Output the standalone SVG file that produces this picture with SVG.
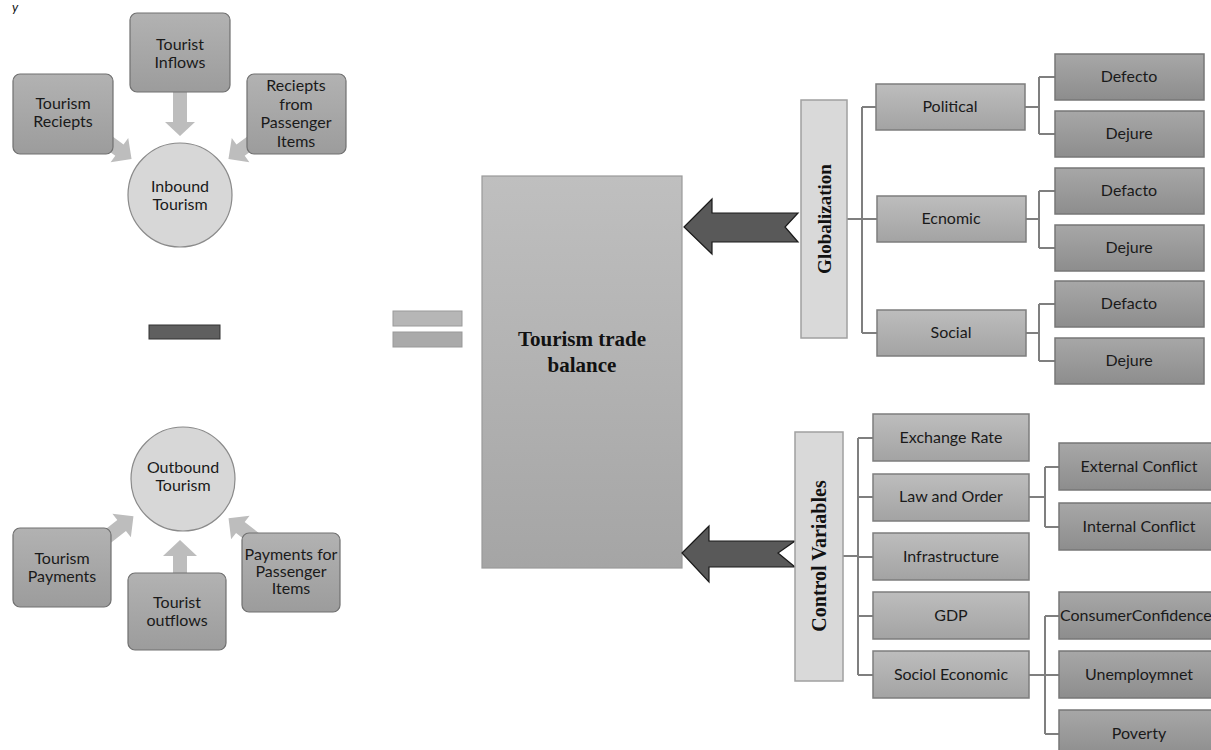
<svg xmlns="http://www.w3.org/2000/svg" width="1211" height="750" viewBox="0 0 1211 750">
<defs>
<linearGradient id="gL2" x1="0" y1="0" x2="0" y2="1"><stop offset="0" stop-color="#bdbdbd"/><stop offset="1" stop-color="#a3a3a3"/></linearGradient>
<linearGradient id="gL3" x1="0" y1="0" x2="0" y2="1"><stop offset="0" stop-color="#a7a7a7"/><stop offset="1" stop-color="#8d8d8d"/></linearGradient>
<linearGradient id="gBox" x1="0" y1="0" x2="0" y2="1"><stop offset="0" stop-color="#b2b2b2"/><stop offset="1" stop-color="#9c9c9c"/></linearGradient>
<linearGradient id="gMain" x1="0" y1="0" x2="0" y2="1"><stop offset="0" stop-color="#bfbfbf"/><stop offset="1" stop-color="#a5a5a5"/></linearGradient>
</defs>
<style>
.t{font-family:Lato,"Liberation Sans",sans-serif;font-size:16px;fill:#1a1a1a;text-anchor:middle}
.s{font-family:"Liberation Serif",serif;font-weight:bold;fill:#111;text-anchor:middle}
.l2{fill:url(#gL2);stroke:#7d7d7d;stroke-width:1.5}
.l3{fill:url(#gL3);stroke:#777;stroke-width:1.5}
.rb{fill:url(#gBox);stroke:#707070;stroke-width:1.2}
.circ{fill:#d7d7d7;stroke:#8a8a8a;stroke-width:1.2}
.sa{fill:#bdbdbd}
.big{fill:#595959;stroke:#1a1a1a;stroke-width:1.2}
.head{fill:#d9d9d9;stroke:#a0a0a0;stroke-width:1.5}
.conn{fill:none;stroke:#7f7f7f;stroke-width:2}
</style>
<rect width="1211" height="750" fill="#fff"/>
<text x="12" y="12" style="font-family:Lato,sans-serif;font-size:13px;font-style:italic;fill:#111">y</text>

<g id="inbound-arrows">
<polygon class="sa" transform="translate(180,90) rotate(90)" points="0,-7 32,-7 32,-15 46,0 32,15 32,7 0,7"/>
<polygon class="sa" transform="translate(100,136) rotate(36)" points="0,-7 24,-7 24,-15 39,0 24,15 24,7 0,7"/>
<polygon class="sa" transform="translate(260,136) rotate(144)" points="0,-7 24,-7 24,-15 39,0 24,15 24,7 0,7"/>
</g>
<g id="tourist-inflows"><rect class="rb" x="130" y="13" width="100" height="79" rx="7"/><text class="t"><tspan x="180" y="50">Tourist</tspan><tspan x="180" y="68">Inflows</tspan></text></g>
<g id="tourism-reciepts"><rect class="rb" x="13" y="74" width="100" height="80" rx="7"/><text class="t"><tspan x="63" y="109">Tourism</tspan><tspan x="63" y="127">Reciepts</tspan></text></g>
<g id="reciepts-passenger"><rect class="rb" x="247" y="74" width="99" height="80" rx="7"/><text class="t"><tspan x="296" y="91">Reciepts</tspan><tspan x="296" y="109.5">from</tspan><tspan x="296" y="128">Passenger</tspan><tspan x="296" y="146.5">Items</tspan></text></g>
<g id="inbound-tourism"><circle class="circ" cx="180" cy="195" r="52"/><text class="t"><tspan x="180" y="192">Inbound</tspan><tspan x="180" y="210">Tourism</tspan></text></g>

<g id="minus"><rect x="149" y="325" width="71" height="14" fill="#5f5f5f" stroke="#333" stroke-width="1"/></g>
<g id="equals"><rect x="393" y="311" width="69" height="15" fill="#b6b6b6" stroke="#9a9a9a" stroke-width="1"/><rect x="393" y="332" width="69" height="15" fill="#aaaaaa" stroke="#999" stroke-width="1"/></g>

<g id="outbound-arrows">
<polygon class="sa" transform="translate(180,575) rotate(-90)" points="0,-7 19,-7 19,-17 35,0 19,17 19,7 0,7"/>
<polygon class="sa" transform="translate(98,544) rotate(-38)" points="0,-7 30,-7 30,-15 45,0 30,15 30,7 0,7"/>
<polygon class="sa" transform="translate(264,546) rotate(-142)" points="0,-7 30,-7 30,-15 45,0 30,15 30,7 0,7"/>
</g>
<g id="outbound-tourism"><circle class="circ" cx="183" cy="479" r="52"/><text class="t"><tspan x="183" y="473">Outbound</tspan><tspan x="183" y="491">Tourism</tspan></text></g>
<g id="tourism-payments"><rect class="rb" x="13" y="528" width="98" height="79" rx="7"/><text class="t"><tspan x="62" y="564">Tourism</tspan><tspan x="62" y="582">Payments</tspan></text></g>
<g id="tourist-outflows"><rect class="rb" x="128" y="573" width="98" height="77" rx="7"/><text class="t"><tspan x="177" y="608">Tourist</tspan><tspan x="177" y="626">outflows</tspan></text></g>
<g id="payments-passenger"><rect class="rb" x="242" y="533" width="98" height="79" rx="7"/><text class="t"><tspan x="291" y="560">Payments for</tspan><tspan x="291" y="577">Passenger</tspan><tspan x="291" y="594">Items</tspan></text></g>

<g id="trade-balance"><rect x="482" y="176" width="200" height="392" fill="url(#gMain)" stroke="#9a9a9a" stroke-width="1.2"/><text class="s" style="font-size:21px"><tspan x="582" y="346">Tourism trade</tspan><tspan x="582" y="372">balance</tspan></text></g>

<g id="big-arrows">
<polygon class="big" points="684,227 712,199 712,213 798,213 785,227 798,242 712,242 712,254"/>
<polygon class="big" points="682,553 709,526 709,541 795,541 778,553 795,567 709,567 709,582"/>
</g>

<g id="connectors">
<path class="conn" d="M847,219H862M862,107V333M862,107H876M862,219H877M862,333H877"/>
<path class="conn" d="M1025,107H1039M1039,77V134M1039,77H1055M1039,134H1055"/>
<path class="conn" d="M1026,219H1039M1039,191V248M1039,191H1055M1039,248H1055"/>
<path class="conn" d="M1026,333H1039M1039,304V361M1039,304H1055M1039,361H1055"/>
<path class="conn" d="M843,556H858M858,438V675M858,438H873M858,497H873M858,557H873M858,616H873M858,675H873"/>
<path class="conn" d="M1029,497H1045M1045,467V527M1045,467H1059M1045,527H1059"/>
<path class="conn" d="M1029,675H1045M1045,616V734M1045,616H1059M1045,675H1059M1045,734H1059"/>
</g>

<g id="globalization"><rect class="head" x="801" y="100" width="46" height="238"/><text class="s" style="font-size:19px" transform="translate(831,219) rotate(-90)" x="0" y="0">Globalization</text></g>
<g id="political"><rect class="l2" x="876" y="84" width="149" height="46"/><text class="t" x="950" y="112">Political</text></g>
<g id="ecnomic"><rect class="l2" x="877" y="196" width="149" height="46"/><text class="t" x="951" y="224">Ecnomic</text></g>
<g id="social"><rect class="l2" x="877" y="310" width="149" height="46"/><text class="t" x="951" y="338">Social</text></g>
<g id="pol-defecto"><rect class="l3" x="1055" y="54" width="149" height="46"/><text class="t" x="1129" y="82">Defecto</text></g>
<g id="pol-dejure"><rect class="l3" x="1055" y="111" width="149" height="46"/><text class="t" x="1129" y="139">Dejure</text></g>
<g id="eco-defacto"><rect class="l3" x="1055" y="168" width="149" height="46"/><text class="t" x="1129" y="196">Defacto</text></g>
<g id="eco-dejure"><rect class="l3" x="1055" y="225" width="149" height="46"/><text class="t" x="1129" y="253">Dejure</text></g>
<g id="soc-defacto"><rect class="l3" x="1055" y="281" width="149" height="46"/><text class="t" x="1129" y="309">Defacto</text></g>
<g id="soc-dejure"><rect class="l3" x="1055" y="338" width="149" height="46"/><text class="t" x="1129" y="366">Dejure</text></g>

<g id="control-variables"><rect class="head" x="795" y="432" width="48" height="249"/><text class="s" style="font-size:20px" transform="translate(826,556) rotate(-90)" x="0" y="0">Control  Variables</text></g>
<g id="exchange-rate"><rect class="l2" x="873" y="414" width="156" height="47"/><text class="t" x="951" y="443">Exchange Rate</text></g>
<g id="law-order"><rect class="l2" x="873" y="474" width="156" height="47"/><text class="t" x="951" y="502">Law and Order</text></g>
<g id="infrastructure"><rect class="l2" x="873" y="533" width="156" height="47"/><text class="t" x="951" y="562">Infrastructure</text></g>
<g id="gdp"><rect class="l2" x="873" y="592" width="156" height="47"/><text class="t" x="951" y="621">GDP</text></g>
<g id="sociol-economic"><rect class="l2" x="873" y="651" width="156" height="47"/><text class="t" x="951" y="680">Sociol Economic</text></g>
<g id="external-conflict"><rect class="l3" x="1059" y="443" width="155" height="47"/><text class="t" x="1139" y="472">External Conflict</text></g>
<g id="internal-conflict"><rect class="l3" x="1059" y="503" width="155" height="47"/><text class="t" x="1139" y="532">Internal Conflict</text></g>
<g id="consumer-confidence"><rect class="l3" x="1059" y="592" width="155" height="47"/><text class="t" x="1060" y="621" style="text-anchor:start">ConsumerConfidence</text></g>
<g id="unemployment"><rect class="l3" x="1059" y="651" width="155" height="47"/><text class="t" x="1139" y="680">Unemploymnet</text></g>
<g id="poverty"><rect class="l3" x="1059" y="710" width="155" height="47"/><text class="t" x="1139" y="739">Poverty</text></g>
</svg>
